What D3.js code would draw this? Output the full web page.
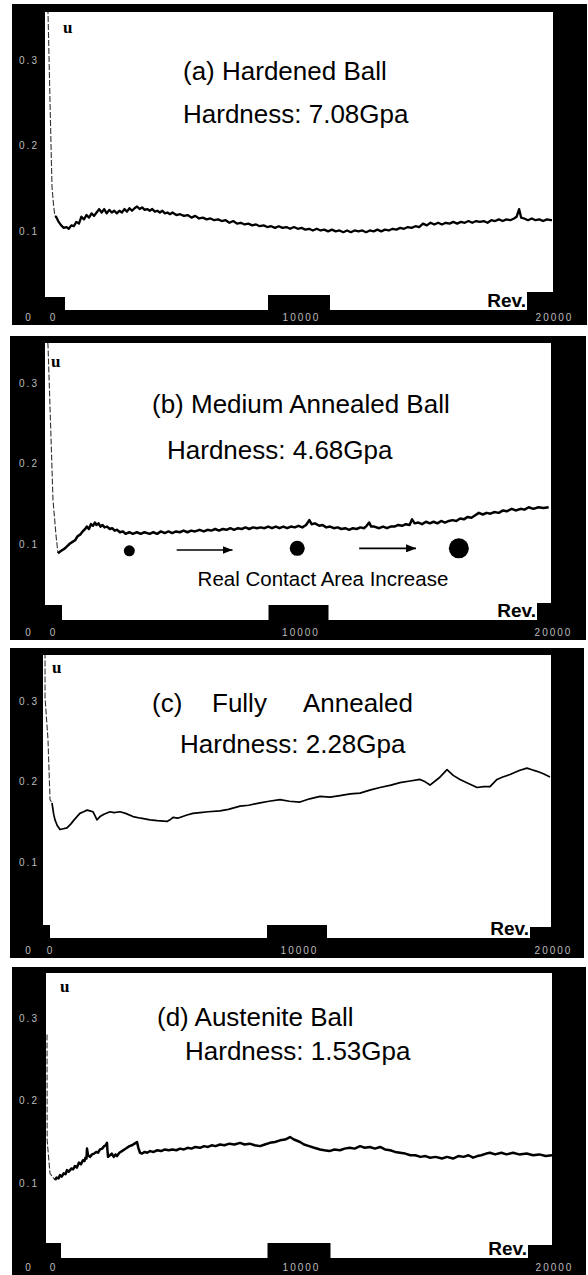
<!DOCTYPE html>
<html>
<head>
<meta charset="utf-8">
<script src="https://cdn.jsdelivr.net/npm/d3@7/dist/d3.min.js"></script>
<style>
  body { margin: 0; background: #fff; }
  svg { display: block; }
</style>
</head>
<body>
<script>
// friction coefficient (u) vs revolutions, four balls of different hardness

const revTicks = [0, 10000, 20000];
const muTicks = [0, 0.1, 0.2, 0.3];

const panelTitles = ['(a) Hardened Ball', '(b) Medium Annealed Ball', '(c)   Fully   Annealed', '(d) Austenite Ball'];
const hardnessLabels = ['Hardness: 7.08Gpa', 'Hardness: 4.68Gpa', 'Hardness: 2.28Gpa', 'Hardness: 1.53Gpa'];

// running-in spike at the very start of each test: [rev, mu]
const startHardened = [[40, .37], [80, .355], [160, .25], [237, .152], [300, .13], [356, .117]];
const startMedium = [[40, .36], [79, .347], [180, .25], [277, .155], [400, .11], [474, .089]];
const startFully = [[79, .36], [79, .305], [197, .252], [276, .178], [354, .174]];
const startAustenite = [[40, .28], [45, .152], [158, .112], [356, .104]];

// steady part of each curve: [rev, mu]
const muHardened = [
  [356, .117], [400, .117], [500, .111], [600, .107], [700, .104], [800, .105], [900, .103], [1000, .107],
  [1100, .106], [1200, .111], [1300, .109], [1400, .117], [1500, .114], [1600, .119], [1700, .116],
  [1800, .121], [1900, .118], [2000, .122], [2100, .126], [2200, .122], [2300, .126], [2400, .121],
  [2500, .125], [2600, .122], [2700, .124], [2800, .121], [2900, .124], [3000, .122], [3100, .126],
  [3200, .123], [3300, .127], [3400, .124], [3500, .127], [3600, .129], [3700, .126], [3800, .128],
  [3900, .125], [4000, .126], [4100, .124], [4200, .126], [4300, .123], [4400, .124], [4500, .122],
  [4600, .124], [4700, .121], [4800, .122], [4900, .120], [5000, .122], [5150, .119], [5300, .120],
  [5450, .118], [5600, .119], [5750, .116], [5900, .118], [6050, .115], [6200, .116], [6350, .114],
  [6500, .115], [6650, .113], [6800, .114], [6950, .112], [7100, .113], [7250, .110], [7400, .112],
  [7550, .109], [7700, .110], [7850, .108], [8000, .109], [8150, .107], [8300, .108], [8450, .106],
  [8600, .107], [8750, .105], [8900, .106], [9050, .104], [9200, .106], [9350, .104], [9500, .105],
  [9650, .103], [9800, .105], [9950, .103], [10100, .104], [10250, .102], [10400, .103], [10550, .101],
  [10700, .103], [10850, .101], [11000, .102], [11150, .100], [11300, .102], [11450, .100], [11600, .101],
  [11750, .099], [11900, .101], [12050, .099], [12200, .101], [12350, .100], [12500, .101], [12650, .099],
  [12800, .101], [12950, .100], [13100, .102], [13250, .100], [13400, .102], [13550, .101], [13700, .103],
  [13850, .102], [14000, .104], [14150, .103], [14300, .105], [14450, .104], [14600, .106], [14750, .105],
  [14900, .109], [15050, .107], [15200, .110], [15350, .108], [15500, .110], [15650, .108], [15800, .110],
  [15950, .109], [16100, .111], [16250, .109], [16400, .111], [16550, .110], [16700, .112], [16850, .110],
  [17000, .112], [17150, .111], [17300, .112], [17450, .110], [17600, .113], [17750, .112], [17900, .114],
  [18050, .112], [18200, .114], [18350, .113], [18500, .115], [18600, .117], [18700, .126], [18780, .116],
  [18900, .115], [19050, .113], [19200, .115], [19350, .113], [19500, .114], [19650, .112], [19800, .114],
  [19950, .113], [20000, .113]
];
const muMedium = [
  [474, .089], [560, .091], [650, .093], [750, .095], [850, .098], [950, .101], [1050, .103], [1150, .105],
  [1250, .110], [1350, .112], [1450, .116], [1550, .119], [1620, .122], [1700, .119], [1780, .125],
  [1860, .123], [1936, .127], [2000, .124], [2080, .126], [2160, .122], [2240, .124], [2320, .121],
  [2420, .122], [2528, .119], [2620, .120], [2720, .117], [2820, .118], [2923, .115], [3050, .116],
  [3150, .113], [3300, .115], [3437, .113], [3600, .115], [3750, .113], [3900, .115], [4108, .113],
  [4250, .115], [4400, .113], [4550, .116], [4700, .114], [4850, .116], [5000, .114], [5150, .116],
  [5300, .115], [5450, .117], [5600, .115], [5750, .117], [5900, .116], [6083, .118], [6250, .116],
  [6400, .118], [6550, .117], [6700, .119], [6850, .117], [7000, .119], [7150, .118], [7300, .120],
  [7450, .118], [7600, .120], [7750, .119], [7900, .121], [8050, .119], [8200, .121], [8350, .120],
  [8500, .121], [8650, .120], [8800, .122], [8950, .120], [9100, .122], [9250, .120], [9400, .122],
  [9550, .120], [9700, .122], [9850, .121], [10000, .123], [10150, .121], [10300, .124], [10428, .130],
  [10520, .125], [10650, .126], [10823, .123], [10950, .124], [11100, .121], [11250, .122], [11400, .120],
  [11550, .121], [11700, .119], [11850, .120], [12008, .118], [12150, .120], [12300, .119], [12450, .121],
  [12600, .120], [12700, .123], [12798, .127], [12880, .122], [13000, .122], [13193, .120], [13350, .122],
  [13500, .120], [13650, .122], [13800, .122], [13950, .124], [14100, .123], [14250, .125], [14400, .124],
  [14497, .131], [14600, .126], [14750, .127], [14892, .125], [15050, .128], [15200, .126], [15350, .128],
  [15500, .126], [15650, .129], [15800, .127], [15958, .129], [16100, .130], [16250, .129], [16400, .132],
  [16550, .131], [16700, .134], [16850, .133], [17000, .136], [17143, .139], [17300, .137], [17450, .139],
  [17600, .138], [17750, .140], [17933, .139], [18100, .142], [18250, .141], [18447, .144], [18600, .142],
  [18800, .144], [18950, .143], [19118, .146], [19300, .144], [19500, .146], [19700, .145], [19908, .146]
];
const muFully = [
  [354, .174], [420, .160], [472, .153], [560, .146], [669, .141], [800, .142], [945, .143], [1100, .148],
  [1200, .152], [1339, .157], [1450, .161], [1600, .163], [1732, .165], [1850, .164], [1969, .163],
  [2050, .158], [2126, .153], [2244, .157], [2400, .160], [2638, .163], [2800, .162], [3031, .163],
  [3250, .161], [3543, .157], [3850, .155], [4213, .153], [4500, .152], [4882, .151], [5000, .153],
  [5118, .156], [5300, .155], [5669, .159], [5900, .161], [6181, .162], [6500, .163], [6968, .164],
  [7300, .166], [7756, .170], [8100, .171], [8543, .174], [8900, .176], [9331, .178], [9700, .176],
  [10118, .175], [10500, .179], [10906, .182], [11300, .181], [11693, .183], [12100, .185], [12480, .186],
  [12900, .190], [13268, .193], [13700, .196], [14055, .199], [14450, .201], [14843, .203], [15050, .200],
  [15236, .196], [15600, .205], [15906, .215], [16150, .208], [16417, .203], [16750, .198], [17087, .193],
  [17350, .194], [17598, .194], [17874, .203], [18100, .206], [18386, .209], [18750, .214], [19055, .217],
  [19250, .215], [19449, .213], [19700, .210], [19961, .206]
];
const muAustenite = [
  [356, .104], [420, .107], [500, .106], [553, .110], [620, .108], [700, .112], [770, .111], [830, .116],
  [900, .114], [1000, .118], [1070, .117], [1146, .121], [1220, .119], [1300, .125], [1380, .123],
  [1463, .128], [1520, .127], [1560, .131], [1600, .130], [1621, .142], [1660, .134], [1739, .132],
  [1820, .135], [1900, .136], [2000, .138], [2060, .137], [2135, .141], [2220, .142], [2300, .145],
  [2360, .146], [2411, .149], [2430, .140], [2451, .132], [2530, .134], [2600, .136], [2680, .132],
  [2750, .135], [2807, .133], [2900, .137], [3000, .139], [3100, .141], [3202, .143], [3300, .145],
  [3400, .146], [3500, .148], [3597, .150], [3650, .143], [3716, .137], [3800, .136], [3900, .138],
  [4000, .137], [4111, .139], [4250, .138], [4400, .140], [4550, .139], [4700, .141], [4850, .140],
  [5000, .141], [5150, .140], [5300, .142], [5450, .141], [5600, .143], [5750, .142], [5900, .144],
  [6088, .143], [6250, .145], [6400, .144], [6550, .146], [6700, .145], [6878, .147], [7050, .146],
  [7250, .148], [7450, .147], [7669, .149], [7850, .147], [8050, .148], [8250, .146], [8460, .145],
  [8650, .147], [8850, .149], [9050, .150], [9250, .152], [9450, .153], [9646, .156], [9800, .153],
  [10041, .150], [10200, .147], [10400, .145], [10600, .143], [10832, .141], [11000, .140], [11200, .139],
  [11400, .141], [11622, .140], [11800, .142], [12000, .143], [12200, .142], [12413, .145], [12600, .143],
  [12800, .144], [13000, .142], [13204, .144], [13400, .141], [13600, .140], [13800, .138], [13994, .137],
  [14200, .136], [14400, .134], [14600, .134], [14800, .132], [15000, .133], [15180, .131], [15400, .132],
  [15650, .130], [15850, .132], [16089, .130], [16300, .133], [16500, .132], [16700, .134], [16879, .131],
  [17050, .133], [17200, .134], [17400, .136], [17551, .137], [17750, .135], [18000, .137], [18200, .135],
  [18461, .137], [18700, .135], [19000, .136], [19250, .134], [19500, .135], [19750, .133], [20000, .134]
];

const startSeries = [startHardened, startMedium, startFully, startAustenite];
const mainSeries = [muHardened, muMedium, muFully, muAustenite];

// panel (b) annotation: contact spots grow along the test
const contactSpots = [[3300, .092], [9950, .095], [16350, .095]];
const contactArrows = [[[5175, .093], [7387, .093]], [[12403, .095], [14655, .095]]];
const contactNote = 'Real Contact Area Increase';

// page layout of the four instrument screens
const layouts = [
  { outer: [12, 4, 587, 325], plot: [45, 12, 553, 310], xRange: [46, 552], yRange: [317, 60], stroke: 2.3,
    blocks: [[20, 13], [62, 15], [26, 18]], title: [183], titleY: 80, hard: [183, 123], u: [63, 33], labelY: 317 },
  { outer: [10, 336, 586, 640], plot: [45, 343, 551, 620], xRange: [46, 551], yRange: [625, 383], stroke: 2.5,
    blocks: [[17, 15], [60, 15], [14, 17]], title: [152], titleY: 413, hard: [167, 459], u: [51, 367], labelY: 632 },
  { outer: [10, 648, 584, 958], plot: [43, 655, 551, 938], xRange: [43, 551], yRange: [943.5, 701], stroke: 1.7,
    blocks: [[7, 13], [60, 13], [21, 11]], title: [152, 212, 303], titleY: 712, hard: [180, 753], u: [52, 673], labelY: 950 },
  { outer: [12, 967, 586, 1275], plot: [46, 973, 552, 1258], xRange: [46, 552], yRange: [1266, 1018], stroke: 2.5,
    blocks: [[15, 15], [63, 15], [24, 13]], title: [157], titleY: 1026, hard: [185, 1060], u: [60, 992], labelY: 1267 }
];

const sans = '"Liberation Sans", Arial, sans-serif';

const svg = d3.select('body').append('svg')
  .attr('width', 588)
  .attr('height', 1275);

layouts.forEach((L, i) => {
  const g = svg.append('g');
  const x = d3.scaleLinear().domain([0, 20000]).range(L.xRange);
  const y = d3.scaleLinear().domain([0, 0.3]).range(L.yRange);
  const [ox0, oy0, ox1, oy1] = L.outer;
  const [px0, py0, px1, py1] = L.plot;

  // black screen frame and white plotting window
  g.append('rect')
    .attr('x', ox0).attr('y', oy0)
    .attr('width', ox1 - ox0).attr('height', oy1 - oy0)
    .attr('fill', '#000');
  g.append('rect')
    .attr('x', px0).attr('y', py0)
    .attr('width', px1 - px0).attr('height', py1 - py0)
    .attr('fill', '#fff');

  g.append('clipPath')
    .attr('id', `clip${i}`)
    .append('rect')
    .attr('x', px0).attr('y', py0)
    .attr('width', px1 - px0).attr('height', py1 - py0);

  const line = d3.line()
    .x(d => x(d[0]))
    .y(d => y(d[1]));

  // start-up spike, thin
  g.append('path')
    .datum(startSeries[i])
    .attr('clip-path', `url(#clip${i})`)
    .attr('fill', 'none')
    .attr('stroke', '#333')
    .attr('stroke-width', 1.1)
    .attr('stroke-dasharray', '6 2')
    .attr('d', line);

  // friction trace
  g.append('path')
    .datum(mainSeries[i])
    .attr('clip-path', `url(#clip${i})`)
    .attr('fill', 'none')
    .attr('stroke', '#000')
    .attr('stroke-width', L.stroke)
    .attr('stroke-linejoin', 'round')
    .attr('d', line);

  // titles
  const words = panelTitles[i].split(/\s{2,}/);
  const titleParts = L.title.length > 1 ? words : [panelTitles[i]];
  titleParts.forEach((t, j) => {
    g.append('text')
      .attr('x', L.title[j]).attr('y', L.titleY)
      .style('font-family', sans)
      .style('font-size', '26px')
      .text(t);
  });
  g.append('text')
    .attr('x', L.hard[0]).attr('y', L.hard[1])
    .style('font-family', sans)
    .style('font-size', '26px')
    .text(hardnessLabels[i]);

  g.append('text')
    .attr('x', L.u[0]).attr('y', L.u[1])
    .style('font-family', '"Liberation Serif", "DejaVu Serif", serif')
    .style('font-weight', 'bold')
    .style('font-size', '17px')
    .text('u');

  // "Rev." sits just left of the right block
  const [lb, mb, rb] = L.blocks;
  g.append('text')
    .attr('x', px1 - rb[0] - 1).attr('y', py1 - 3)
    .attr('text-anchor', 'end')
    .style('font-family', sans)
    .style('font-weight', 'bold')
    .style('font-size', '19px')
    .text('Rev.');

  // bottom strip drawn over the text, plus the three screen blocks
  g.append('rect')
    .attr('x', ox0).attr('y', py1)
    .attr('width', ox1 - ox0).attr('height', oy1 - py1)
    .attr('fill', '#000');
  g.append('rect')
    .attr('x', px0).attr('y', py1 - lb[1])
    .attr('width', lb[0]).attr('height', lb[1])
    .attr('fill', '#000');
  g.append('rect')
    .attr('x', x(10000) - mb[0] / 2).attr('y', py1 - mb[1])
    .attr('width', mb[0]).attr('height', mb[1])
    .attr('fill', '#000');
  g.append('rect')
    .attr('x', px1 - rb[0]).attr('y', py1 - rb[1])
    .attr('width', rb[0]).attr('height', rb[1])
    .attr('fill', '#000');

  // axes: only faint labels on the black frame
  const yAxis = g.append('g')
    .attr('transform', 'translate(29,0)')
    .call(d3.axisLeft(y).tickValues(muTicks).tickSize(0).tickFormat(d => d === 0 ? '0' : d.toFixed(1)));
  yAxis.select('.domain').remove();
  yAxis.selectAll('.tick')
    .attr('transform', d => `translate(0,${d === 0 ? L.labelY : y(d)})`);
  yAxis.selectAll('text')
    .attr('x', 0)
    .attr('dy', '0.35em')
    .style('text-anchor', 'middle');

  const xAxis = g.append('g')
    .attr('transform', `translate(0,${L.labelY})`)
    .call(d3.axisBottom(x).tickValues(revTicks).tickSize(0));
  xAxis.select('.domain').remove();
  xAxis.selectAll('text')
    .attr('y', 0)
    .attr('dy', '0.35em')
    .attr('dx', d => d === 0 ? 7 : 2)
    .text(d => d);

  g.selectAll('.tick text')
    .attr('fill', '#bdbdbd')
    .style('font-family', sans)
    .style('font-size', '10px')
    .style('letter-spacing', '2px');

  // contact-area annotation, panel (b) only
  if (i === 1) {
    const spotR = [5.5, 7.5, 10];
    g.selectAll('.spot')
      .data(contactSpots)
      .enter()
      .append('circle')
      .attr('class', 'spot')
      .attr('cx', d => x(d[0]))
      .attr('cy', d => y(d[1]))
      .attr('r', (d, k) => spotR[k])
      .attr('fill', '#000');

    svg.append('defs')
      .append('marker')
      .attr('id', 'head')
      .attr('viewBox', '0 0 10 8')
      .attr('refX', 10).attr('refY', 4)
      .attr('markerWidth', 10).attr('markerHeight', 8)
      .attr('markerUnits', 'userSpaceOnUse')
      .attr('orient', 'auto')
      .append('path')
      .attr('d', 'M0,0L10,4L0,8Z')
      .attr('fill', '#000');

    g.selectAll('.arrow')
      .data(contactArrows)
      .enter()
      .append('line')
      .attr('class', 'arrow')
      .attr('x1', d => x(d[0][0])).attr('y1', d => y(d[0][1]))
      .attr('x2', d => x(d[1][0])).attr('y2', d => y(d[1][1]))
      .attr('stroke', '#000')
      .attr('stroke-width', 1.6)
      .attr('marker-end', 'url(#head)');

    g.append('text')
      .attr('x', x(6004)).attr('y', y(0.048))
      .style('font-family', sans)
      .style('font-size', '20.5px')
      .text(contactNote);
  }
});
</script>
</body>
</html>
